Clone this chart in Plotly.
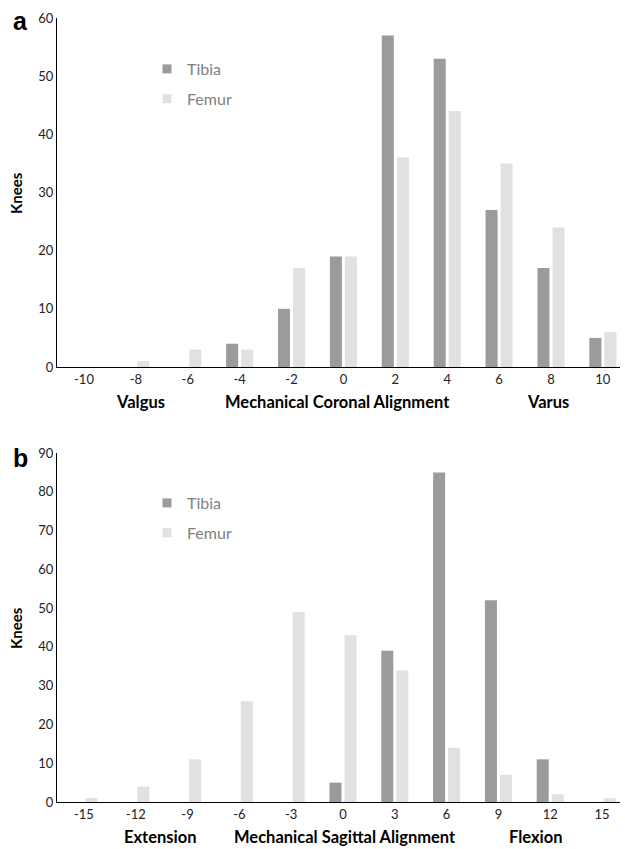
import plotly.graph_objects as go

# ---- data ----
coronal_cats = [-10, -8, -6, -4, -2, 0, 2, 4, 6, 8, 10]
coronal_labels = ["-10", "-8", "-6", "-4", "-2", "0", "2", "4", "6", "8", "10"]
coronal_tibia = [0, 0, 0, 4, 10, 19, 57, 53, 27, 17, 5]
coronal_femur = [0, 1, 3, 3, 17, 19, 36, 44, 35, 24, 6]

sagittal_cats = [-15, -12, -9, -6, -3, 0, 3, 6, 9, 12, 15]
sagittal_labels = ["-15", "-12", "-9", "-6", "-3", "0", "3", "6", "9", "12", "15"]
sagittal_tibia = [0, 0, 0, 0, 0, 5, 39, 85, 52, 11, 0]
sagittal_femur = [1, 4, 11, 26, 49, 43, 34, 14, 7, 2, 1]

series_names = ["Tibia", "Femur"]

# ---- style ----
W, H = 625, 849
TIBIA_C = "#9b9b9b"
FEMUR_C = "#e1e1e1"
FONT = "Lato"
TICK_C = "#222222"

def px(x):
    return x / W

def py(y):
    return 1 - y / H

fig = go.Figure()

# panel a bars
fig.add_trace(go.Bar(x=coronal_cats, y=coronal_tibia, name=series_names[0],
                     marker=dict(color=TIBIA_C, line_width=0), xaxis="x", yaxis="y",
                     showlegend=False))
fig.add_trace(go.Bar(x=coronal_cats, y=coronal_femur, name=series_names[1],
                     marker=dict(color=FEMUR_C, line_width=0), xaxis="x", yaxis="y",
                     showlegend=False))
# panel b bars
fig.add_trace(go.Bar(x=sagittal_cats, y=sagittal_tibia, name=series_names[0],
                     marker=dict(color=TIBIA_C, line_width=0), xaxis="x2", yaxis="y2",
                     showlegend=False))
fig.add_trace(go.Bar(x=sagittal_cats, y=sagittal_femur, name=series_names[1],
                     marker=dict(color=FEMUR_C, line_width=0), xaxis="x2", yaxis="y2",
                     showlegend=False))

# legend entries (square markers)
for lg, xa, ya in [("legend", "x", "y"), ("legend2", "x2", "y2")]:
    for nm, c in zip(series_names, [TIBIA_C, FEMUR_C]):
        fig.add_trace(go.Scatter(x=[None], y=[None], mode="markers", name=nm,
                                 marker=dict(symbol="square", size=9, color=c),
                                 xaxis=xa, yaxis=ya, legend=lg, legendgroup=lg + nm,
                                 showlegend=True))

axis_common = dict(showgrid=False, zeroline=False, showline=True, linecolor="#000000",
                   linewidth=1.3, ticks="", automargin=False,
                   tickfont=dict(family=FONT, size=13, color=TICK_C))

fig.update_layout(
    width=W, height=H,
    margin=dict(l=0, r=0, t=0, b=0),
    paper_bgcolor="white", plot_bgcolor="white",
    barmode="group", bargap=0.42, bargroupgap=0.2,
    font=dict(family=FONT, color=TICK_C),
    xaxis=dict(domain=[px(57), px(620)], anchor="y", range=[-11.04, 10.66],
               tickmode="array", tickvals=coronal_cats, ticktext=coronal_labels, **axis_common),
    yaxis=dict(domain=[py(367), py(18)], anchor="x", range=[0, 60], dtick=10,
               tickmode="linear", tick0=0, **axis_common),
    xaxis2=dict(domain=[px(57), px(620)], anchor="y2", range=[-16.56, 16.04],
                tickmode="array", tickvals=sagittal_cats, ticktext=sagittal_labels, **axis_common),
    yaxis2=dict(domain=[py(802), py(453)], anchor="x2", range=[0, 90], dtick=10,
                tickmode="linear", tick0=0, **axis_common),
    legend=dict(x=px(147), y=py(52), xanchor="left", yanchor="top",
                font=dict(family=FONT, size=16, color="#7f7f7f"),
                bgcolor="rgba(0,0,0,0)", tracegroupgap=6, itemclick=False),
    legend2=dict(x=px(147), y=py(486), xanchor="left", yanchor="top",
                 font=dict(family=FONT, size=16, color="#7f7f7f"),
                 bgcolor="rgba(0,0,0,0)", tracegroupgap=6, itemclick=False),
)

annots = [
    ("<b>a</b>", 20, 21, 25, "Liberation Sans", 0),
    ("<b>b</b>", 20, 458, 25, "Liberation Sans", 0),
    ("<b>Knees</b>", 16, 193, 15, FONT, -90),
    ("<b>Knees</b>", 16, 628, 15, FONT, -90),
    ("<b>Valgus</b>", 140, 402, 16.5, FONT, 0),
    ("<b>Mechanical Coronal Alignment</b>", 338, 402, 16.5, FONT, 0),
    ("<b>Varus</b>", 548, 402, 16.5, FONT, 0),
    ("<b>Extension</b>", 160, 837, 16.5, FONT, 0),
    ("<b>Mechanical Sagittal Alignment</b>", 345, 837, 16.5, FONT, 0),
    ("<b>Flexion</b>", 536, 837, 16.5, FONT, 0),
]
for txt, x, y, sz, fam, ang in annots:
    fig.add_annotation(text=txt, x=px(x), y=py(y), xref="paper", yref="paper",
                       xanchor="center", yanchor="middle", showarrow=False, textangle=ang,
                       font=dict(family=fam, size=sz, color="#000000"))

# remove the default page margin so the 625x849 figure fills the window exactly
fig.write_html("out.html", config={"displayModeBar": False},
               post_script="document.body.style.margin='0';")
